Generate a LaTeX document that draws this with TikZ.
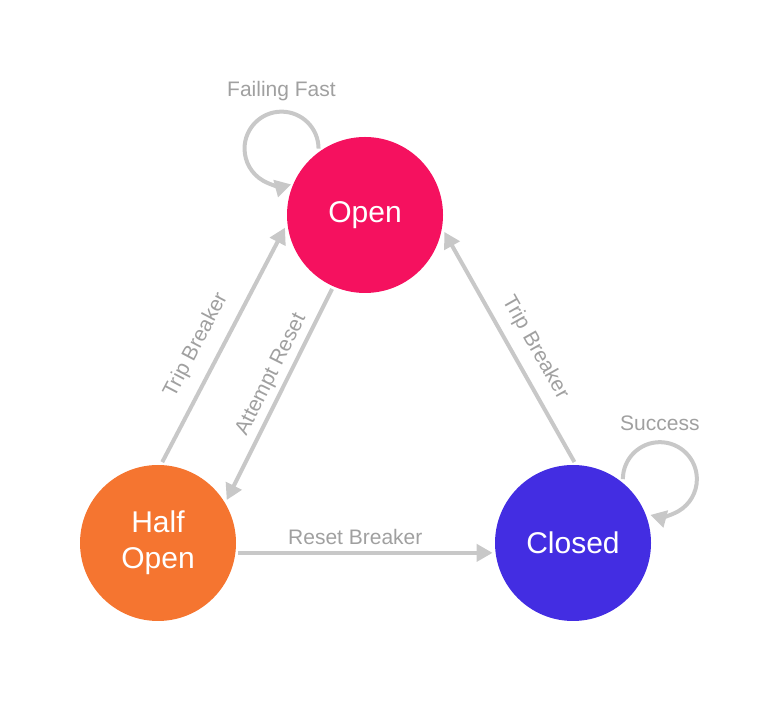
\documentclass[tikz,border=0pt]{standalone}
\usepackage{fontspec}
\setmainfont{Liberation Sans}
\usetikzlibrary{arrows.meta}
\definecolor{openred}{RGB}{245,17,95}
\definecolor{halforange}{RGB}{245,117,48}
\definecolor{closedblue}{RGB}{67,45,226}
\definecolor{linegray}{RGB}{200,200,200}
\definecolor{textgray}{RGB}{160,160,160}

\begin{document}
\begin{tikzpicture}[x=1pt, y=1pt,
    state/.style = {circle, minimum size=156pt, inner sep=0pt, outer sep=3pt, text=white, align=center, font=\fontsize{30}{36}\selectfont},
    trans/.style = {draw=linegray, line width=4pt, -{Triangle[length=16pt,width=17pt]}},
    lbl/.style = {text=textgray, font=\fontsize{21}{25}\selectfont}]
    \useasboundingbox (0,0) rectangle (781,703);
    \node[state, fill=openred] (open) at (365,488) {Open};
    \node[state, fill=halforange] (half) at (158,160) {Half\\Open};
    \node[state, fill=closedblue] (closed) at (573,160) {Closed};
    \draw[trans] (half.87) -- (open.189) node[lbl, pos=0.45, sloped, above=9pt] {Trip Breaker};
    \draw[trans] (open.246) -- (half.32) node[lbl, pos=0.44, sloped, above=1pt] {Attempt Reset};
    \draw[trans] (half.-7) -- (closed.187) node[lbl, pos=0.46, above=3pt] {Reset Breaker};
    \draw[trans] (closed.89) -- (open.-12) node[lbl, pos=0.45, sloped, above=7pt] {Trip Breaker};
    \draw[trans] (open.125) arc[start angle=0, end angle=285, radius=37] node[lbl, pos=0.316, above=5pt] {Failing Fast};
    \draw[trans] (closed.52) arc[start angle=180, end angle=-105, radius=37] node[lbl, pos=0.316, above=6pt] {Success};
\end{tikzpicture}
\end{document}
